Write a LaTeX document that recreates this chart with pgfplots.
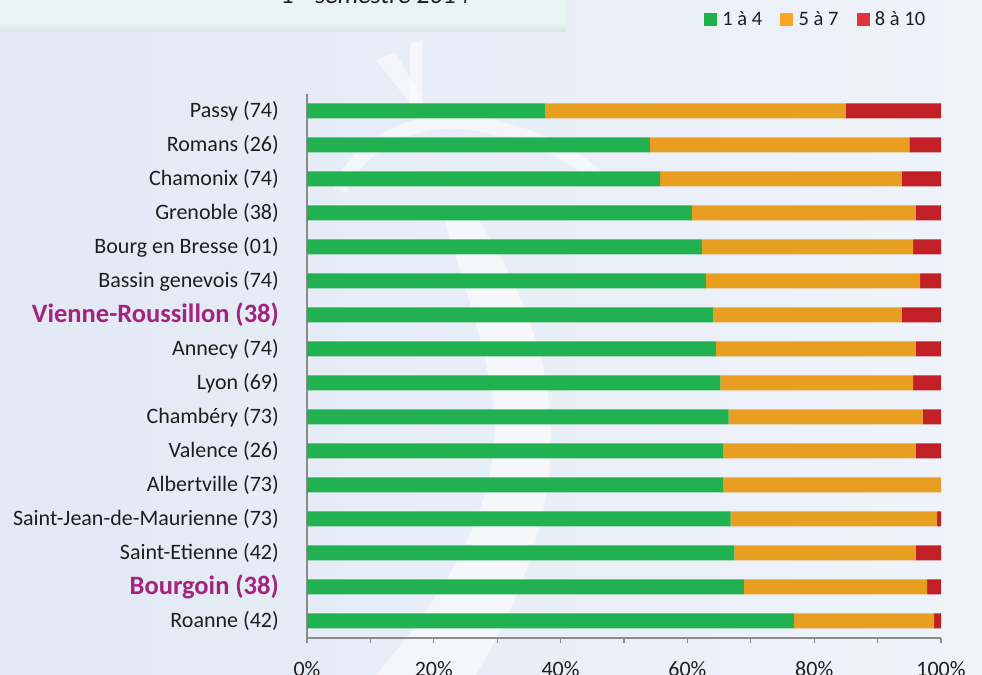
\documentclass[border=0pt]{standalone}
\usepackage{fontspec}
\setmainfont{Carlito}
\usepackage{pgfplots}
\usepackage{pgfplotstable}
\pgfplotsset{compat=1.18}

\definecolor{barG}{RGB}{33,177,80}
\definecolor{barO}{RGB}{232,158,32}
\definecolor{barR}{RGB}{194,31,39}
\definecolor{legG}{RGB}{34,176,75}
\definecolor{legO}{RGB}{247,168,35}
\definecolor{legR}{RGB}{227,51,59}
\definecolor{bgL}{RGB}{226,233,244}
\definecolor{bgR}{RGB}{239,243,250}
\definecolor{boxT}{RGB}{232,244,243}
\definecolor{boxB}{RGB}{216,229,228}
\definecolor{axgray}{RGB}{140,140,140}
\definecolor{txt}{RGB}{30,30,30}
\definecolor{hl}{RGB}{163,35,126}

% y: 15 = Passy (top) ... 0 = Roanne (bottom)
\pgfplotstableread{
y  g     o     r
15 37.5  47.5  15.0
14 54.1  40.9  5.0
13 55.7  38.1  6.2
12 60.7  35.3  4.0
11 62.3  33.3  4.4
10 62.9  33.8  3.3
9  64.1  29.7  6.2
8  64.5  31.5  4.0
7  65.2  30.4  4.4
6  66.5  30.6  2.9
5  65.6  30.4  4.0
4  65.6  34.4  0.0
3  66.8  32.6  0.6
2  67.4  28.6  4.0
1  68.9  28.9  2.2
0  76.8  22.1  1.1
}\data

\begin{document}
\begin{tikzpicture}
% background
\shade[left color=bgL, right color=bgR] (0bp,0bp) rectangle (982bp,675bp);
% watermark (image coordinates)
\begin{scope}[x=1bp, y=1bp, shift={(0bp,675bp)}, yscale=-1]
\fill[white, opacity=0.55] (440,207) .. controls (470,300) and (495,380) .. (495,430)
  .. controls (492,520) and (440,600) .. (376,675) -- (476,675)
  .. controls (520,600) and (552,520) .. (551,430)
  .. controls (550,360) and (520,280) .. (470,207) -- cycle;
\fill[white, opacity=0.55] (376,60) -- (395,52) -- (420,95) -- (410,103) -- cycle;
\fill[white, opacity=0.55] (410,43) -- (422,40) -- (422,103) -- (410,103) -- cycle;
\draw[white, opacity=0.5, line width=14bp] (340,190) .. controls (360,140) and (420,118) .. (460,122)
  .. controls (520,128) and (570,150) .. (600,180);
\end{scope}
% title box
\fill[boxT] (0bp,643bp) rectangle (566bp,675bp);
\shade[top color=boxT, bottom color=boxB] (0bp,643bp) rectangle (566bp,652bp);
\node[anchor=base, font=\itshape\fontsize{26bp}{30bp}\selectfont, text=txt] at (375bp,671bp) {1\textsuperscript{er} semestre 2014};

\begin{axis}[
  at={(307bp,37bp)}, anchor=south west,
  scale only axis, width=634bp, height=544bp,
  xbar stacked, bar width=15bp,
  xmin=0, xmax=100, ymin=-0.5, ymax=15.5,
  axis x line*=bottom, axis y line*=left,
  axis line style={draw=axgray, line width=1.5bp},
  tick align=outside,
  major tick length=5bp, minor tick length=5bp,
  xtick={0,20,40,60,80,100},
  xticklabels={0\%,20\%,40\%,60\%,80\%,100\%},
  minor xtick={10,30,50,70,90},
  ytick={0,...,15},
  yticklabels={
    Roanne (42),
    {\fontsize{26.5bp}{30bp}\selectfont\bfseries\color{hl}Bourgoin (38)},
    Saint-Etienne (42),
    Saint-Jean-de-Maurienne (73),
    Albertville (73),
    Valence (26),
    Chambéry (73),
    Lyon (69),
    Annecy (74),
    {\fontsize{26.5bp}{30bp}\selectfont\bfseries\color{hl}Vienne-Roussillon (38)},
    Bassin genevois (74),
    Bourg en Bresse (01),
    Grenoble (38),
    Chamonix (74),
    Romans (26),
    Passy (74)},
  minor ytick={-0.5,0.5,...,15.5},
  ytick style={draw=none},
  xtick style={draw=axgray, line width=1.2bp},
  minor tick style={draw=axgray, line width=1.2bp},
  yticklabel style={font=\fontsize{22bp}{26bp}\selectfont, text=txt, inner sep=0pt, anchor=east, xshift=-23bp},
  xticklabel style={font=\fontsize{22bp}{26bp}\selectfont, text=txt, inner sep=0pt, anchor=north, yshift=-18bp},
  legend columns=3,
  legend style={at={(axis description cs:0.6262,1.1379)}, anchor=west, draw=none, fill=none,
    inner sep=0pt, outer sep=0pt,
    font=\fontsize{20.5bp}{24bp}\selectfont, text=txt,
    nodes={inner sep=0pt},
    /tikz/every odd column/.append style={column sep=6bp},
    /tikz/every even column/.append style={column sep=18bp}},
  legend cell align=left,
]
\addlegendimage{legend image code/.code={\fill[legG] (0bp,-6bp) rectangle (12bp,6bp);}}
\addlegendentry{1 à 4}
\addlegendimage{legend image code/.code={\fill[legO] (0bp,-6bp) rectangle (12bp,6bp);}}
\addlegendentry{5 à 7}
\addlegendimage{legend image code/.code={\fill[legR] (0bp,-6bp) rectangle (12bp,6bp);}}
\addlegendentry{8 à 10}
\addplot[fill=barG, draw=none] table[x=g, y=y] {\data};
\addplot[fill=barO, draw=none] table[x=o, y=y] {\data};
\addplot[fill=barR, draw=none] table[x=r, y=y] {\data};
\end{axis}
\pgfresetboundingbox
\useasboundingbox (0bp,0bp) rectangle (982bp,675bp);
\end{tikzpicture}
\end{document}
